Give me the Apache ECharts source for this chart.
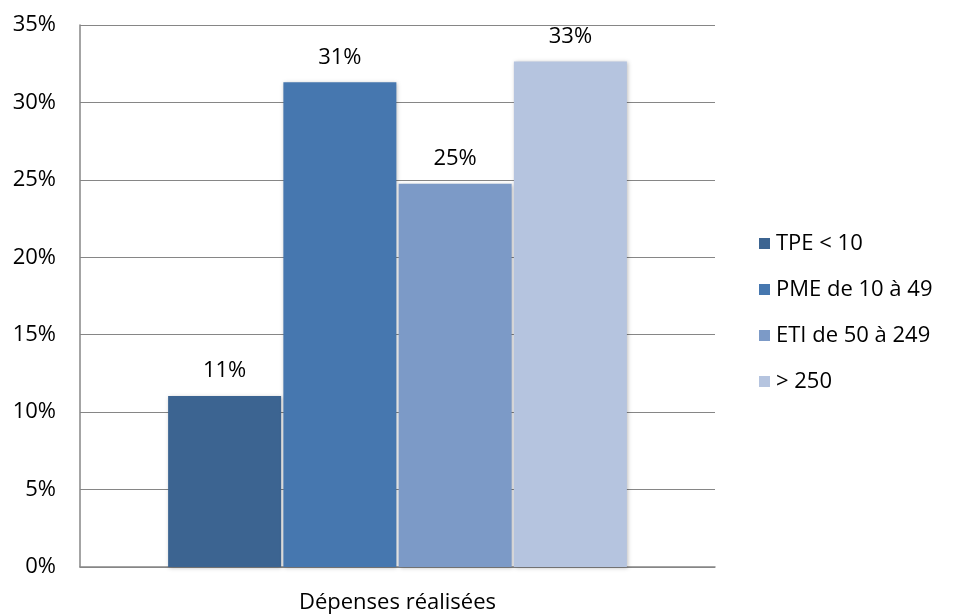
<!DOCTYPE html>
<html><head><meta charset="utf-8">
<script src="https://cdn.jsdelivr.net/npm/echarts@6/dist/echarts.min.js"></script>
<style>html,body{margin:0;padding:0;background:#fff}#c{width:958px;height:616px}</style>
</head><body><div id="c"></div>
<script>
const categories = ['Dépenses réalisées'];
const seriesNames = ['TPE < 10', 'PME de 10 à 49', 'ETI de 50 à 249', '> 250'];
const valTPE = [11.05];
const valPME = [31.3];
const valETI = [24.75];
const val250 = [32.65];
const colors = ['#3C6491', '#4677AF', '#7C9AC7', '#B5C4DF'];
const FONT = 'Open Sans';
const allVals = [valTPE, valPME, valETI, val250];
const chart = echarts.init(document.getElementById('c'));
chart.setOption({
  animation: false,
  textStyle: { fontFamily: FONT },
  grid: { left: 80, right: 243, top: 25, bottom: 49 },
  legend: {
    orient: 'vertical', left: 754, top: 227,
    itemWidth: 11, itemHeight: 11, itemGap: 23,
    icon: 'rect',
    textStyle: { fontFamily: FONT, fontSize: 22, lineHeight: 23, color: '#000', padding: [0,0,0,1] },
    data: seriesNames
  },
  xAxis: {
    type: 'category', data: categories,
    axisLine: { lineStyle: { color: '#868686', width: 1.5 } },
    axisTick: { show: false },
    axisLabel: { fontFamily: FONT, fontSize: 22, color: '#000', margin: 25 }
  },
  yAxis: {
    type: 'value', min: 0, max: 35, interval: 5,
    axisLine: { show: true, lineStyle: { color: '#868686', width: 1.5 } },
    axisTick: { show: false },
    splitLine: { lineStyle: { color: '#868686', width: 1.2 } },
    axisLabel: { fontFamily: FONT, fontSize: 22, color: '#000', margin: 24, formatter: v => v + '%' }
  },
  series: seriesNames.map((n, i) => ({
    name: n, type: 'bar', data: allVals[i],
    barWidth: 113, barGap: '2%',
    itemStyle: { color: colors[i],
      shadowBlur: 4, shadowColor: 'rgba(0,0,0,0.25)', shadowOffsetX: 1, shadowOffsetY: 1 },
    label: { show: true, position: 'top', distance: 14, fontFamily: FONT, fontSize: 22, color: '#000',
      formatter: p => Math.round(p.value) + '%' }
  }))
});
</script></body></html>
